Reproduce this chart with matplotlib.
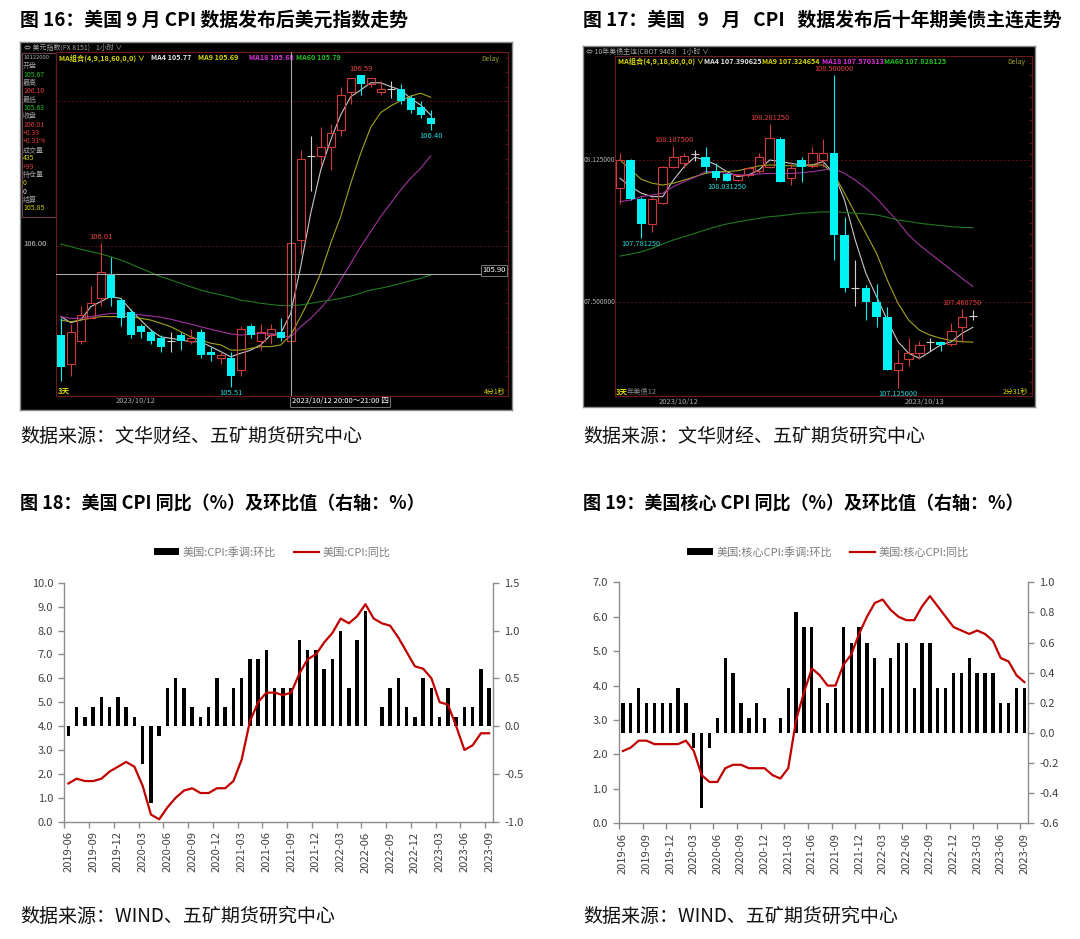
import numpy as np
import matplotlib
matplotlib.use('Agg')
import matplotlib.pyplot as plt
from matplotlib.patches import Patch, Rectangle
from matplotlib.lines import Line2D

plt.rcParams['font.family'] = ['Noto Sans CJK SC', 'DejaVu Sans']
plt.rcParams['axes.unicode_minus'] = False

W, H = 1080, 939

# ---------------- 图16 美元指数 1小时K线 ----------------
dxy_open = [105.69, 105.59, 105.67, 105.75, 105.82, 105.90, 105.81, 105.77, 105.72, 105.70,
            105.68, 105.67, 105.69, 105.67, 105.70, 105.63, 105.61, 105.61, 105.57, 105.72,
            105.67, 105.69, 105.70, 105.67, 106.02, 106.31, 106.31, 106.34, 106.40, 106.53,
            106.59, 106.56, 106.53, 106.54, 106.54, 106.51, 106.48, 106.44]
dxy_high = [105.75, 105.73, 105.79, 105.86, 106.01, 105.96, 105.82, 105.78, 105.73, 105.71,
            105.69, 105.70, 105.70, 105.71, 105.71, 105.65, 105.63, 105.63, 105.72, 105.73,
            105.73, 105.73, 105.75, 106.10, 106.33, 106.38, 106.41, 106.42, 106.55, 106.58,
            106.59, 106.58, 106.57, 106.57, 106.56, 106.52, 106.50, 106.47]
dxy_low = [105.53, 105.55, 105.66, 105.75, 105.79, 105.79, 105.72, 105.68, 105.68, 105.66,
           105.63, 105.63, 105.64, 105.66, 105.61, 105.60, 105.59, 105.51, 105.55, 105.68,
           105.64, 105.66, 105.67, 105.63, 105.97, 106.19, 106.28, 106.26, 106.38, 106.49,
           106.52, 106.55, 106.52, 106.51, 106.49, 106.46, 106.44, 106.40]
dxy_close = [105.58, 105.70, 105.76, 105.80, 105.91, 105.82, 105.75, 105.69, 105.70, 105.67,
             105.65, 105.67, 105.67, 105.68, 105.62, 105.62, 105.62, 105.55, 105.71, 105.69,
             105.70, 105.71, 105.68, 106.01, 106.30, 106.31, 106.34, 106.39, 106.52, 106.58,
             106.56, 106.58, 106.54, 106.54, 106.50, 106.47, 106.45, 106.42]
dxy_ma4 = [105.754, 105.733, 105.742, 105.788, 105.806, 105.823, 105.817, 105.777, 105.742, 105.708,
           105.684, 105.679, 105.673, 105.667, 105.667, 105.650, 105.633, 105.615, 105.627, 105.638,
           105.656, 105.690, 105.696, 105.765, 105.927, 106.111, 106.261, 106.365, 106.452, 106.515,
           106.538, 106.563, 106.563, 106.550, 106.538, 106.509, 106.486, 106.452]
dxy_ma9 = [105.742, 105.736, 105.742, 105.748, 105.754, 105.754, 105.754, 105.754, 105.748, 105.742,
           105.731, 105.719, 105.702, 105.684, 105.673, 105.662, 105.656, 105.638, 105.638, 105.644,
           105.650, 105.650, 105.656, 105.690, 105.754, 105.823, 105.904, 106.008, 106.100, 106.215,
           106.319, 106.409, 106.460, 106.483, 106.501, 106.517, 106.527, 106.513]
dxy_ma18 = [105.754, 105.748, 105.748, 105.754, 105.760, 105.765, 105.765, 105.763, 105.760, 105.756,
            105.752, 105.745, 105.736, 105.728, 105.719, 105.710, 105.702, 105.694, 105.690, 105.694,
            105.696, 105.695, 105.688, 105.683, 105.719, 105.748, 105.783, 105.823, 105.881, 105.938,
            105.996, 106.048, 106.100, 106.146, 106.192, 106.233, 106.267, 106.310]
dxy_ma60 = [106.005, 105.996, 105.987, 105.979, 105.971, 105.961, 105.950, 105.936, 105.921, 105.907,
            105.892, 105.881, 105.869, 105.857, 105.846, 105.837, 105.829, 105.821, 105.811, 105.806,
            105.800, 105.796, 105.792, 105.792, 105.794, 105.800, 105.806, 105.811, 105.817, 105.825,
            105.835, 105.846, 105.852, 105.860, 105.869, 105.878, 105.886, 105.898]
dxy_ma_text = ['MA4 105.77', 'MA9 105.69', 'MA18 105.68', 'MA60 105.79']
dxy_marks = [(4, '106.01', 'high'), (30, '106.59', 'high'), (17, '105.51', 'low'), (37, '106.40', 'low')]
dxy_info = [('10122000', '#b0b0b0'), ('开盘', '#a0a0a0'), ('105.67', '#20c020'), ('最高', '#a0a0a0'),
            ('106.10', '#e03c3c'), ('最低', '#a0a0a0'), ('105.63', '#20c020'), ('收盘', '#a0a0a0'),
            ('106.01', '#e03c3c'), ('+0.33', '#e03c3c'), ('+0.31%', '#e03c3c'), ('成交量', '#a0a0a0'),
            ('435', '#d0d000'), ('+99', '#e03c3c'), ('持仓量', '#a0a0a0'), ('0', '#d0d000'),
            ('0', '#e0e0e0'), ('结算', '#a0a0a0'), ('105.85', '#d0d000')]

# ---------------- 图17 十年期美债主连 1小时K线 ----------------
ust_open = [108.000, 108.125, 107.952, 107.844, 107.937, 108.096, 108.113, 108.150, 108.140, 108.077,
            108.062, 108.037, 108.059, 108.077, 108.096, 108.218, 108.045, 108.125, 108.100, 108.125,
            108.154, 107.796, 107.561, 107.561, 107.500, 107.437, 107.203, 107.250, 107.279, 107.327,
            107.327, 107.315, 107.390, 107.440]
ust_high = [108.154, 108.130, 107.964, 107.964, 108.100, 108.1875, 108.157, 108.169, 108.183, 108.110,
            108.070, 108.062, 108.096, 108.154, 108.28125, 108.227, 108.118, 108.140, 108.183, 108.216,
            108.500, 107.876, 107.686, 107.576, 107.580, 107.481, 107.291, 107.342, 107.330, 107.342,
            107.330, 107.408, 107.46875, 107.466]
ust_low = [107.930, 107.950, 107.78125, 107.810, 107.930, 108.090, 108.090, 108.121, 108.066, 108.037,
           108.03125, 108.033, 108.052, 108.070, 108.090, 108.030, 108.015, 108.030, 108.090, 108.096,
           107.686, 107.547, 107.484, 107.422, 107.390, 107.203, 107.125, 107.220, 107.250, 107.284,
           107.284, 107.310, 107.327, 107.422]
ust_close = [108.125, 107.952, 107.844, 107.955, 108.096, 108.140, 108.143, 108.150, 108.093, 108.047,
             108.033, 108.059, 108.088, 108.140, 108.220, 108.030, 108.088, 108.093, 108.154, 108.154,
             107.796, 107.561, 107.561, 107.500, 107.437, 107.203, 107.235, 107.279, 107.312, 107.327,
             107.312, 107.374, 107.437, 107.440]
ust_ma4 = [108.045, 108.008, 107.979, 107.964, 107.964, 108.037, 108.096, 108.137, 108.125, 108.103,
           108.074, 108.052, 108.059, 108.081, 108.125, 108.118, 108.110, 108.103, 108.103, 108.118,
           108.066, 107.949, 107.774, 107.627, 107.525, 107.422, 107.327, 107.276, 107.254, 107.283,
           107.313, 107.327, 107.364, 107.390]
ust_ma9 = [108.125, 108.081, 108.040, 108.023, 108.015, 108.023, 108.037, 108.052, 108.066, 108.074,
           108.074, 108.078, 108.088, 108.099, 108.103, 108.103, 108.099, 108.099, 108.103, 108.103,
           108.066, 107.979, 107.891, 107.803, 107.715, 107.598, 107.496, 107.422, 107.378, 107.356,
           107.342, 107.332, 107.327, 107.325]
ust_ma18 = [107.942, 107.949, 107.964, 107.971, 107.979, 108.008, 108.030, 108.049, 108.074, 108.074,
            108.066, 108.059, 108.059, 108.064, 108.066, 108.066, 108.066, 108.069, 108.074, 108.081,
            108.088, 108.066, 108.037, 108.001, 107.957, 107.905, 107.854, 107.796, 107.752, 107.715,
            107.678, 107.642, 107.605, 107.570]
ust_ma60 = [107.703, 107.712, 107.722, 107.737, 107.756, 107.774, 107.788, 107.803, 107.818, 107.832,
            107.844, 107.853, 107.861, 107.869, 107.876, 107.880, 107.886, 107.891, 107.894, 107.897,
            107.898, 107.895, 107.891, 107.888, 107.884, 107.873, 107.861, 107.855, 107.847, 107.842,
            107.837, 107.832, 107.829, 107.828]
ust_ma_text = ['MA4 107.390625', 'MA9 107.324654', 'MA18 107.570313', 'MA60 107.828125']
ust_marks = [(5, '108.187500', 'high'), (14, '108.281250', 'high'), (20, '108.500000', 'high'),
             (32, '107.468750', 'high'), (2, '107.781250', 'low'), (10, '108.031250', 'low'),
             (26, '107.125000', 'low')]

# ---------------- 图18/19 CPI ----------------
month_labels = ['2019-06', '2019-09', '2019-12', '2020-03', '2020-06', '2020-09', '2020-12',
                '2021-03', '2021-06', '2021-09', '2021-12', '2022-03', '2022-06', '2022-09',
                '2022-12', '2023-03', '2023-06', '2023-09']
cpi_mom = [-0.1, 0.2, 0.1, 0.2, 0.3, 0.2, 0.3, 0.2, 0.1, -0.4,
           -0.8, -0.1, 0.4, 0.5, 0.4, 0.2, 0.1, 0.2, 0.5, 0.2,
           0.4, 0.5, 0.7, 0.7, 0.8, 0.4, 0.4, 0.4, 0.9, 0.8,
           0.8, 0.6, 0.7, 1.0, 0.4, 0.9, 1.2, 0.0, 0.2, 0.4,
           0.5, 0.2, 0.1, 0.5, 0.4, 0.1, 0.4, 0.1, 0.2, 0.2,
           0.6, 0.4]
cpi_yoy = [1.6, 1.8, 1.7, 1.7, 1.8, 2.1, 2.3, 2.5, 2.3, 1.5,
           0.3, 0.1, 0.6, 1.0, 1.3, 1.4, 1.2, 1.2, 1.4, 1.4,
           1.7, 2.6, 4.2, 5.0, 5.4, 5.4, 5.3, 5.4, 6.2, 6.8,
           7.0, 7.5, 7.9, 8.5, 8.3, 8.6, 9.1, 8.5, 8.3, 8.2,
           7.7, 7.1, 6.5, 6.4, 6.0, 5.0, 4.9, 4.0, 3.0, 3.2,
           3.7, 3.7]
core_mom = [0.2, 0.2, 0.3, 0.2, 0.2, 0.2, 0.2, 0.3, 0.2, -0.1,
            -0.5, -0.1, 0.1, 0.5, 0.4, 0.2, 0.1, 0.2, 0.1, 0.0,
            0.1, 0.3, 0.8, 0.7, 0.7, 0.3, 0.2, 0.3, 0.7, 0.6,
            0.7, 0.6, 0.5, 0.3, 0.5, 0.6, 0.6, 0.3, 0.6, 0.6,
            0.3, 0.3, 0.4, 0.4, 0.5, 0.4, 0.4, 0.4, 0.2, 0.2,
            0.3, 0.3]
core_yoy = [2.1, 2.2, 2.4, 2.4, 2.3, 2.3, 2.3, 2.3, 2.4, 2.1,
            1.4, 1.2, 1.2, 1.6, 1.7, 1.7, 1.6, 1.6, 1.6, 1.4,
            1.3, 1.6, 3.0, 3.8, 4.5, 4.3, 4.0, 4.0, 4.6, 4.9,
            5.5, 6.0, 6.4, 6.5, 6.2, 6.0, 5.9, 5.9, 6.3, 6.6,
            6.3, 6.0, 5.7, 5.6, 5.5, 5.6, 5.5, 5.3, 4.8, 4.7,
            4.3, 4.1]

K_RED = '#d03a3a'
K_CYAN = '#00f2f2'
K_DOJI = '#d0d0d0'
MA_COLORS = ['#c8c8c8', '#a4a420', '#a232a2', '#1f7a1f']
MA_TEXT_COLORS = ['#e6e6e6', '#d8d800', '#e030e0', '#20c020']
GRID_RED = '#5c1212'
LINE_RED = '#C00000'


def px_box(x0, y0, x1, y1):
    return [x0 / W, 1 - y1 / H, (x1 - x0) / W, (y1 - y0) / H]


def ftext(x, y, s, **kw):
    fig.text(x / W, 1 - y / H, s, **kw)


def frame_axes(x0, y0, x1, y1):
    ax = fig.add_axes(px_box(x0, y0, x1, y1))
    ax.set_xlim(x0, x1)
    ax.set_ylim(y1, y0)
    ax.set_facecolor('black')
    ax.set_xticks([])
    ax.set_yticks([])
    for s in ax.spines.values():
        s.set_color('#8a8a8a')
        s.set_linewidth(1.0)
    return ax


def price_axes(x0, y0, x1, y1, xlim, ylim, grid_levels):
    ax = fig.add_axes(px_box(x0, y0, x1, y1))
    ax.set_facecolor('none')
    ax.set_xlim(*xlim)
    ax.set_ylim(*ylim)
    ax.set_xticks([])
    ax.yaxis.tick_right()
    ax.set_yticks(np.arange(np.ceil(ylim[0] * 20) / 20, ylim[1], 0.05))
    ax.tick_params(axis='y', direction='in', length=2, color=GRID_RED, labelright=False)
    for s in ax.spines.values():
        s.set_color('#6a1a1a')
        s.set_linewidth(0.8)
    for g in grid_levels:
        ax.axhline(g, color=GRID_RED, lw=0.7, ls=(0, (2, 2)), zorder=1)
    return ax


def draw_candles(ax, o, h, l, c, width=0.8):
    o, h, l, c = map(np.asarray, (o, h, l, c))
    x = np.arange(len(o))
    up, dn, fl = c > o, c < o, c == o
    # 阳线空心：影线不穿过实体
    ax.vlines(x[up], l[up], o[up], color=K_RED, lw=0.8, zorder=3)
    ax.vlines(x[up], c[up], h[up], color=K_RED, lw=0.8, zorder=3)
    ax.bar(x[up], (c - o)[up], bottom=o[up], width=width, facecolor='none',
           edgecolor=K_RED, lw=0.8, zorder=4)
    ax.vlines(x[dn], l[dn], h[dn], color=K_CYAN, lw=0.8, zorder=3)
    ax.bar(x[dn], (o - c)[dn], bottom=c[dn], width=width, color=K_CYAN, lw=0, zorder=4)
    ax.vlines(x[fl], l[fl], h[fl], color=K_DOJI, lw=0.8, zorder=3)
    ax.hlines(o[fl], x[fl] - width / 2, x[fl] + width / 2, color=K_DOJI, lw=0.8, zorder=4)


def draw_ma(ax, mas):
    for vals, col in zip(mas, MA_COLORS):
        ax.plot(np.arange(len(vals)), vals, color=col, lw=0.8, zorder=2)


def ma_header(fr, y, xs, texts):
    fr.text(xs[0], y, 'MA组合(4,9,18,60,0,0) ∨', color='#d8d800', fontsize=5.2, weight='bold', va='center')
    for x, s, col in zip(xs[1:], texts, MA_TEXT_COLORS):
        fr.text(x, y, s, color=col, fontsize=5.2, weight='bold', va='center')


def mark_extremes(ax, marks, highs, lows, fs=5.5):
    for i, s, kind in marks:
        if kind == 'high':
            ax.annotate(s, (i, highs[i]), xytext=(0, 1.5), textcoords='offset points',
                        ha='center', va='bottom', color='#e84040', fontsize=fs, zorder=6)
        else:
            ax.annotate(s, (i, lows[i]), xytext=(0, -1.5), textcoords='offset points',
                        ha='center', va='top', color='#20d8d8', fontsize=fs, zorder=6)


def cpi_panel(box, mom, yoy, ylim_l, yticks_l, ylim_r, yticks_r):
    n = len(mom)
    x = np.arange(n)
    axb = fig.add_axes(px_box(*box))
    axl = fig.add_axes(px_box(*box))
    axl.set_facecolor('none')
    axb.bar(x, mom, width=0.42, color='black', zorder=2)
    axl.plot(x, yoy, color=LINE_RED, lw=1.6, zorder=3)
    for ax in (axb, axl):
        ax.set_xlim(-0.5, n - 0.5)
        for s in ax.spines.values():
            s.set_visible(False)
    axb.set_ylim(*ylim_r)
    axb.set_yticks(yticks_r)
    axb.yaxis.tick_right()
    axb.yaxis.set_major_formatter('{x:.1f}')
    axl.set_ylim(*ylim_l)
    axl.set_yticks(yticks_l)
    axl.yaxis.set_major_formatter('{x:.1f}')
    axl.spines['left'].set_visible(True)
    axb.spines['right'].set_visible(True)
    axb.spines['bottom'].set_visible(True)
    for s in (axl.spines['left'], axb.spines['right'], axb.spines['bottom']):
        s.set_color('#8c8c8c')
        s.set_linewidth(1.0)
    for ax in (axb, axl):
        ax.tick_params(axis='y', direction='out', length=4, width=1, color='#8c8c8c',
                       labelcolor='#404040', labelsize=8, pad=4)
    axl.set_xticks([])
    tick_idx = np.arange(0, n, 3)
    axb.set_xticks(tick_idx)
    axb.set_xticklabels(month_labels, rotation=90)
    axb.set_xticks(tick_idx - 0.5, minor=True)
    axb.tick_params(axis='x', which='major', length=0, labelsize=8, labelcolor='#404040', pad=7)
    axb.tick_params(axis='x', which='minor', direction='out', length=4, width=1, color='#8c8c8c')
    return axb, axl


fig = plt.figure(figsize=(W / 100, H / 100), dpi=100)
fig.patch.set_facecolor('white')

# ======= 标题与来源 =======
TITLE_FS = 13.0
SRC_FS = 13.7
ftext(20, 20, '图 16：美国 9 月 CPI 数据发布后美元指数走势', fontsize=13.6, weight='bold', va='center', color='black')
ftext(583, 20, '图 17：美国   9   月   CPI   数据发布后十年期美债主连走势', fontsize=13.6, weight='bold', va='center', color='black')
ftext(20, 436, '数据来源：文华财经、五矿期货研究中心', fontsize=SRC_FS, va='center', color='#111111')
ftext(583, 436, '数据来源：文华财经、五矿期货研究中心', fontsize=SRC_FS, va='center', color='#111111')
ftext(20, 503, '图 18：美国 CPI 同比（%）及环比值（右轴：%）', fontsize=TITLE_FS, weight='bold', va='center', color='black')
ftext(583, 503, '图 19：美国核心 CPI 同比（%）及环比值（右轴：%）', fontsize=TITLE_FS, weight='bold', va='center', color='black')
ftext(20, 916, '数据来源：WIND、五矿期货研究中心', fontsize=SRC_FS, va='center', color='#111111')
ftext(583, 916, '数据来源：WIND、五矿期货研究中心', fontsize=SRC_FS, va='center', color='#111111')

# ======= 图16 =======
fr = frame_axes(20, 42, 512, 410)
fr.text(24, 48, '⇔ 美元指数(FX 8151)    1小时 ∨', color='#a8a8a8', fontsize=5, va='center')
fr.add_patch(Rectangle((22, 53), 34, 164, fill=False, edgecolor='#6a4444', lw=0.8))
for k, (s, col) in enumerate(dxy_info):
    fr.text(23, 58 + k * 8.35, s, color=col, fontsize=5 if k else 4.2, va='center')
ma_header(fr, 58, [59, 151, 198, 249, 296], dxy_ma_text)
fr.text(481, 59, 'Delay', color='#a0a020', fontsize=5, va='center')
fr.text(58, 391, '3天', color='#d8d800', fontsize=5.5, weight='bold', va='center')
fr.text(136, 401, '2023/10/12', color='#a8a8a8', fontsize=5.5, va='center', ha='center')
fr.text(506, 392, '4分1秒', color='#d8d800', fontsize=5, va='center', ha='right')
fr.text(23, 244, '106.00', color='#c8c8c8', fontsize=5.5, va='center')

ax16 = price_axes(56, 52, 508, 396, (-0.47, 44.73), (105.4792, 106.6696), [106.0, 106.5])
draw_ma(ax16, [dxy_ma4, dxy_ma9, dxy_ma18, dxy_ma60])
draw_candles(ax16, dxy_open, dxy_high, dxy_low, dxy_close)
mark_extremes(ax16, dxy_marks, dxy_high, dxy_low)
# 十字光标
ax16.axvline(23, color='#a8a8a8', lw=0.8, zorder=5)
ax16.axhline(105.90, color='#a8a8a8', lw=0.8, zorder=5)
ax16.text(0.995, 105.90, '105.90', transform=ax16.get_yaxis_transform(), ha='right', va='bottom',
          color='white', fontsize=5.5, zorder=7,
          bbox=dict(boxstyle='square,pad=0.15', facecolor='black', edgecolor='#8a8a8a', lw=0.6))
fr.text(292, 401.5, '2023/10/12 20:00～21:00 四', color='white', fontsize=5.5, va='center',
        bbox=dict(boxstyle='square,pad=0.2', facecolor='black', edgecolor='#8a8a8a', lw=0.6))

# ======= 图17 =======
fr2 = frame_axes(583, 46, 1035, 407)
fr2.text(586, 52, '⇔ 10年美债主连(CBOT 9463)    1小时 ∨', color='#a8a8a8', fontsize=5, va='center')
ma_header(fr2, 61, [618, 704, 762, 822, 884], ust_ma_text)
fr2.text(1007, 62, 'Delay', color='#a0a020', fontsize=5, va='center')
fr2.text(584, 160, '08.125000', color='#b0b0b0', fontsize=4.8, va='center')
fr2.text(584, 302, '07.500000', color='#b0b0b0', fontsize=4.8, va='center')
fr2.text(616, 392, '3天', color='#d8d800', fontsize=5.5, weight='bold', va='center')
fr2.text(627, 392, '年美债12', color='#8a8a8a', fontsize=5.2, va='center')
fr2.text(679, 402, '2023/10/12', color='#a8a8a8', fontsize=5.5, va='center', ha='center')
fr2.text(925, 402, '2023/10/13', color='#a8a8a8', fontsize=5.5, va='center', ha='center')
fr2.text(1028, 392, '2分31秒', color='#d8d800', fontsize=5, va='center', ha='right')

ax17 = price_axes(615, 56, 1031.7, 396, (-0.468, 38.51), (107.0885, 108.5817), [108.125, 107.5])
draw_ma(ax17, [ust_ma4, ust_ma9, ust_ma18, ust_ma60])
draw_candles(ax17, ust_open, ust_high, ust_low, ust_close)
mark_extremes(ax17, ust_marks, ust_high, ust_low, fs=5.3)

# ======= 图18 =======
cpi_panel((64.3, 582.7, 493.3, 821.7), cpi_mom, cpi_yoy,
          (0, 10), np.arange(0, 10.01, 1.0), (-1.0, 1.5), np.arange(-1.0, 1.51, 0.5))
h18 = [Patch(facecolor='black'), Line2D([], [], color=LINE_RED, lw=1.6)]
fig.legend(h18, ['美国:CPI:季调:环比', '美国:CPI:同比'], loc='center', ncol=2,
           bbox_to_anchor=(272 / W, 1 - 552 / H), frameon=False, fontsize=8,
           labelcolor='#7f7f7f', handlelength=2.3, handleheight=0.5,
           handletextpad=0.3, columnspacing=1.6)

# ======= 图19 =======
cpi_panel((619, 582.3, 1028.3, 823.3), core_mom, core_yoy,
          (0, 7), np.arange(0, 7.01, 1.0), (-0.6, 1.0), np.arange(-0.6, 1.01, 0.2))
fig.legend(h18, ['美国:核心CPI:季调:环比', '美国:核心CPI:同比'], loc='center', ncol=2,
           bbox_to_anchor=(828 / W, 1 - 552 / H), frameon=False, fontsize=8,
           labelcolor='#7f7f7f', handlelength=2.3, handleheight=0.5,
           handletextpad=0.3, columnspacing=1.6)

fig.savefig('out.png', dpi=100)
